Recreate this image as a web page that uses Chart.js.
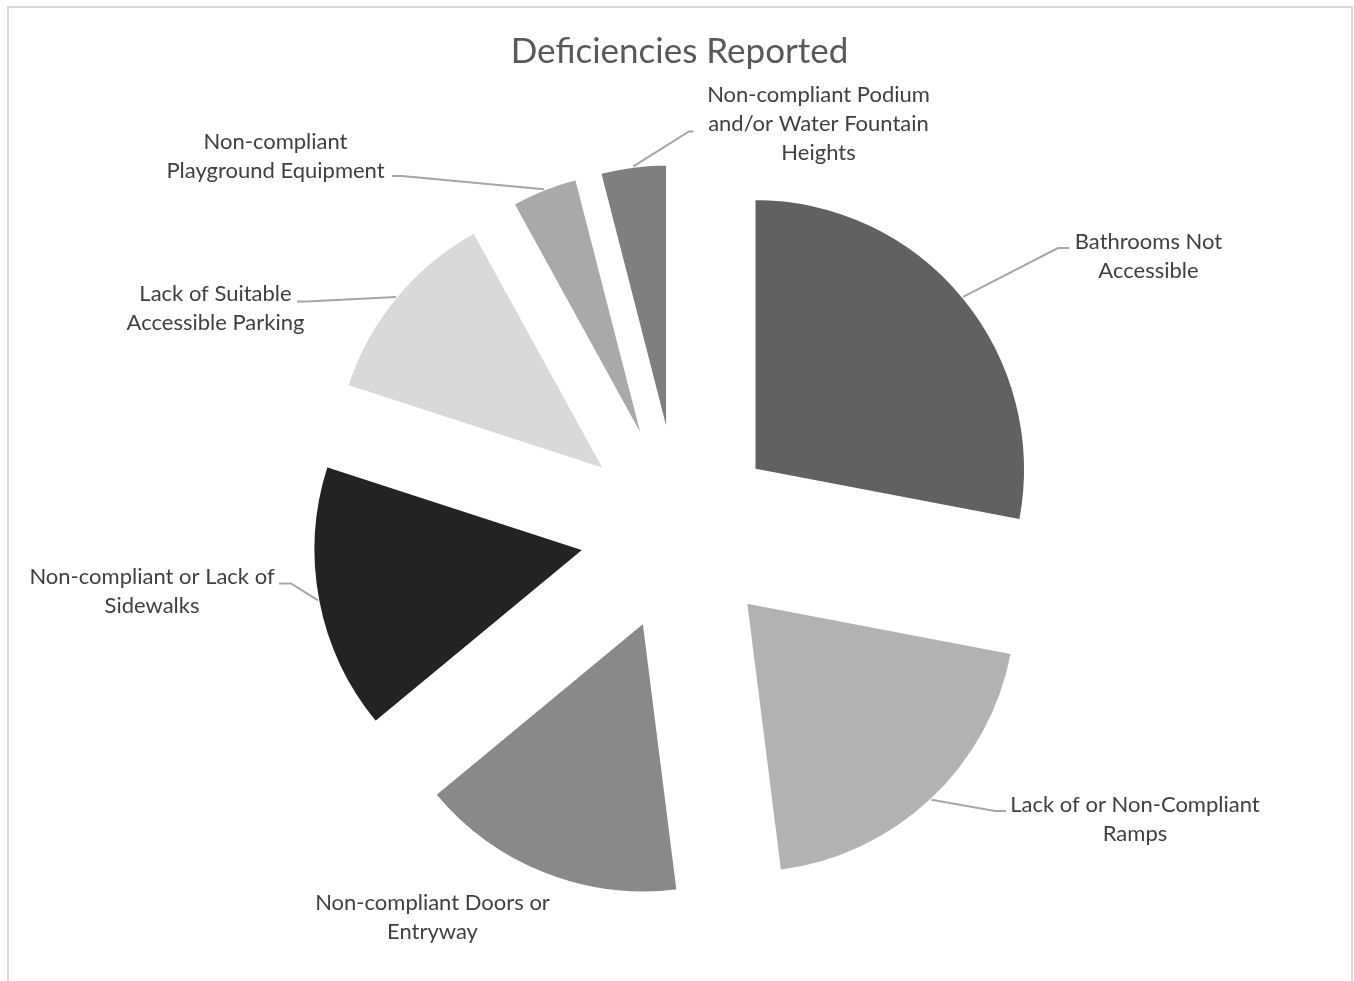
<!DOCTYPE html>
<html>
<head>
<meta charset="utf-8">
<title>Deficiencies Reported</title>
<script src="https://cdn.jsdelivr.net/npm/chart.js@4/dist/chart.umd.min.js"></script>
<style>
  html, body { margin: 0; padding: 0; background: #fff; }
  canvas { display: block; }
</style>
</head>
<body>
<canvas id="chart" width="1354" height="981"></canvas>
<script>
const categories = [
  ['Bathrooms Not', 'Accessible'],
  ['Lack of or Non-Compliant', 'Ramps'],
  ['Non-compliant Doors or', 'Entryway'],
  ['Non-compliant or Lack of', 'Sidewalks'],
  ['Lack of Suitable', 'Accessible Parking'],
  ['Non-compliant', 'Playground Equipment'],
  ['Non-compliant Podium', 'and/or Water Fountain', 'Heights']
];
const reports = [7, 5, 4, 4, 3, 1, 1];
const shades = ['#616161', '#b2b2b2', '#898989', '#232323', '#d9d9d9', '#a9a9a9', '#7f7f7f'];

// where each label sits: text centre x, first baseline y,
// leader elbow (x, y) and the x where the leader meets the text
const labelSpots = [
  { x: 1148.5, y: 248.5, elbow: [1058, 248], end: 1069 },
  { x: 1135, y: 811.5, elbow: [995, 811], end: 1006 },
  { x: 432.5, y: 910, elbow: null },
  { x: 152, y: 584, elbow: [291, 583.5], end: 279 },
  { x: 215.5, y: 300.5, elbow: [307, 301.5], end: 297 },
  { x: 275.5, y: 148.5, elbow: [402, 176], end: 392 },
  { x: 818.5, y: 101.5, elbow: [689, 131.5], end: 693.5 }
];

// pull every slice out along its middle angle
const explode = {
  id: 'explode',
  afterDatasetsUpdate(chart, args, opts) {
    chart.getDatasetMeta(0).data.forEach(arc => {
      const mid = (arc.startAngle + arc.endAngle) / 2;
      arc.x += Math.cos(mid) * opts.distance;
      arc.y += Math.sin(mid) * opts.distance;
    });
  }
};

const sliceLabels = {
  id: 'sliceLabels',
  afterDatasetsDraw(chart, args, opts) {
    const ctx = chart.ctx;
    const arcs = chart.getDatasetMeta(0).data;
    ctx.save();
    ctx.lineWidth = opts.lineWidth;
    ctx.strokeStyle = opts.lineColor;
    ctx.fillStyle = opts.color;
    ctx.font = opts.font;
    ctx.textAlign = 'center';
    ctx.textBaseline = 'alphabetic';
    arcs.forEach((arc, i) => {
      const spot = labelSpots[i];
      if (spot.elbow) {
        const mid = (arc.startAngle + arc.endAngle) / 2;
        ctx.beginPath();
        ctx.moveTo(arc.x + Math.cos(mid) * arc.outerRadius, arc.y + Math.sin(mid) * arc.outerRadius);
        ctx.lineTo(spot.elbow[0], spot.elbow[1]);
        ctx.lineTo(spot.end, spot.elbow[1]);
        ctx.stroke();
      }
      chart.data.labels[i].forEach((line, k) => {
        ctx.fillText(line, spot.x, spot.y + k * opts.lineHeight);
      });
    });
    ctx.restore();
  }
};

const frame = {
  id: 'frame',
  beforeDraw(chart) {
    const ctx = chart.ctx;
    ctx.save();
    ctx.strokeStyle = '#d9d9d9';
    ctx.lineWidth = 2;
    ctx.strokeRect(8, 7, 1344, 1000);
    ctx.restore();
  }
};

new Chart(document.getElementById('chart'), {
  type: 'pie',
  data: {
    labels: categories,
    datasets: [{
      data: reports,
      backgroundColor: shades,
      borderColor: '#ffffff',
      borderWidth: 2.5,
      radius: 271
    }]
  },
  options: {
    responsive: false,
    animation: false,
    events: [],
    layout: { padding: { left: 5, right: 0, top: 0, bottom: 0 } },
    plugins: {
      legend: { display: false },
      tooltip: { enabled: false },
      title: {
        display: true,
        text: 'Deficiencies Reported',
        color: '#595959',
        font: { family: 'Lato', size: 35, weight: 'normal' },
        padding: { top: 31, bottom: 9 }
      },
      explode: { distance: 97 },
      sliceLabels: {
        font: '22px Lato',
        color: '#404040',
        lineColor: '#a6a6a6',
        lineWidth: 2,
        lineHeight: 29.3
      }
    }
  },
  plugins: [frame, explode, sliceLabels]
});
</script>
</body>
</html>
